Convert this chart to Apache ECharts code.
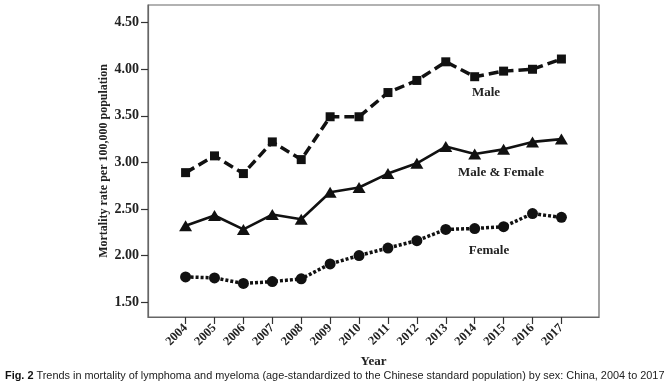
<!DOCTYPE html>
<html><head><meta charset="utf-8">
<script src="https://cdn.jsdelivr.net/npm/echarts@6/dist/echarts.min.js"></script>
<style>html,body{margin:0;padding:0;background:#fff}#c{width:672px;height:388px}</style>
</head><body><div id="c"></div>
<script>
const years = [2004,2005,2006,2007,2008,2009,2010,2011,2012,2013,2014,2015,2016,2017];
const male = [2.89,3.07,2.88,3.22,3.03,3.49,3.49,3.75,3.88,4.08,3.92,3.98,4.00,4.11];
const maleFemale = [2.32,2.43,2.28,2.44,2.39,2.68,2.73,2.88,2.99,3.17,3.09,3.14,3.22,3.25];
const female = [1.77,1.76,1.70,1.72,1.75,1.91,2.00,2.08,2.16,2.28,2.29,2.31,2.45,2.41];
const yTicks = [1.5,2.0,2.5,3.0,3.5,4.0,4.5];
const seriesNames = ['Male','Male & Female','Female'];
const yAxisTitle = 'Mortality rate per 100,000 population';
const xAxisTitle = 'Year';
const caption = 'Trends in mortality of lymphoma and myeloma (age-standardized to the Chinese standard population) by sex: China, 2004 to 2017';

const serif = 'Liberation Serif';
const pairs = arr => years.map((y,i)=>[y,arr[i]]);
const chart = echarts.init(document.getElementById('c'), null, {renderer:'canvas'});
chart.setOption({
  animation:false,
  backgroundColor:'#fff',
  grid:{left:148, top:5, right:73, bottom:71, show:true, borderColor:'#666', borderWidth:1.2, backgroundColor:'transparent'},
  xAxis:{
    type:'value', min:2002.7, max:2018.3,
    name:xAxisTitle, nameLocation:'middle', nameGap:36,
    nameTextStyle:{fontFamily:serif, fontWeight:'bold', fontSize:13, color:'#222'},
    axisLine:{show:true, lineStyle:{color:'#666', width:1.2}},
    axisTick:{show:true, length:7, lineStyle:{color:'#333', width:1.2}, customValues:years},
    axisLabel:{rotate:45, fontFamily:serif, fontWeight:'bold', fontSize:12.5, color:'#222', margin:9, customValues:years, formatter:v=>String(v)},
    splitLine:{show:false}
  },
  yAxis:{
    type:'value', min:1.34, max:4.69,
    name:yAxisTitle, nameLocation:'middle', nameGap:38, nameMoveOverlap:false,
    nameTextStyle:{fontFamily:serif, fontWeight:'bold', fontSize:12, color:'#222'},
    axisLine:{show:true, lineStyle:{color:'#666', width:1.2}},
    axisTick:{show:true, length:7, lineStyle:{color:'#333', width:1.2}, customValues:yTicks},
    axisLabel:{fontFamily:serif, fontWeight:'bold', fontSize:14, color:'#222', margin:9, customValues:yTicks, formatter:v=>v.toFixed(2)},
    splitLine:{show:false}
  },
  series:[
    {name:seriesNames[0], type:'line', data:pairs(male), symbol:'rect', symbolSize:9,
     itemStyle:{color:'#111'}, lineStyle:{color:'#111', width:3.5, type:[10,5]}},
    {name:seriesNames[1], type:'line', data:pairs(maleFemale), symbol:'triangle', symbolSize:[13,11],
     itemStyle:{color:'#111'}, lineStyle:{color:'#111', width:2.6, type:'solid'}},
    {name:seriesNames[2], type:'line', data:pairs(female), symbol:'circle', symbolSize:11,
     itemStyle:{color:'#111'}, lineStyle:{color:'#111', width:3.5, type:[3,2]}}
  ],
  graphic:[
    {type:'text', x:486, y:93, style:{text:seriesNames[0], font:'bold 13px "Liberation Serif"', fill:'#222', textAlign:'center', textVerticalAlign:'middle'}},
    {type:'text', x:501, y:173, style:{text:seriesNames[1], font:'bold 13px "Liberation Serif"', fill:'#222', textAlign:'center', textVerticalAlign:'middle'}},
    {type:'text', x:489, y:251, style:{text:seriesNames[2], font:'bold 13px "Liberation Serif"', fill:'#222', textAlign:'center', textVerticalAlign:'middle'}},
    {type:'text', x:5, y:376, style:{
      text:'{b|Fig. 2} '+caption,
      rich:{b:{fontFamily:'Liberation Sans', fontWeight:'bold', fontSize:10.9, fill:'#111'}},
      fontFamily:'Liberation Sans', fontSize:10.9, fill:'#222', textVerticalAlign:'middle'}}
  ]
});
</script></body></html>
